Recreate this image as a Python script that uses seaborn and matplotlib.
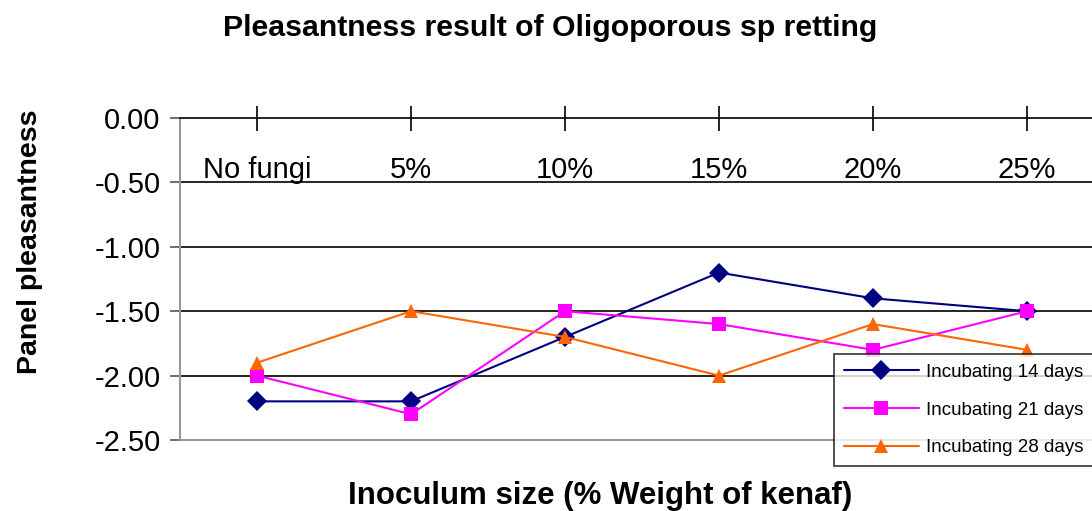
import pandas as pd
import matplotlib
matplotlib.use("Agg")
import matplotlib.pyplot as plt
import seaborn as sns

# Data
categories = ["No fungi", "5%", "10%", "15%", "20%", "25%"]
days_14 = [-2.2, -2.2, -1.7, -1.2, -1.4, -1.5]
days_21 = [-2.0, -2.3, -1.5, -1.6, -1.8, -1.5]
days_28 = [-1.9, -1.5, -1.7, -2.0, -1.6, -1.8]
series_names = ["Incubating 14 days", "Incubating 21 days", "Incubating 28 days"]
y_ticks = [0.0, -0.5, -1.0, -1.5, -2.0, -2.5]

rows = []
for name, vals in zip(series_names, [days_14, days_21, days_28]):
    for i, (cat, v) in enumerate(zip(categories, vals)):
        rows.append({"pos": i, "Inoculum": cat, "Series": name, "Value": v})
df = pd.DataFrame(rows)

sns.set_style("white")
plt.rcParams["font.family"] = ["Liberation Sans", "DejaVu Sans"]
plt.rcParams["text.color"] = "black"
plt.rcParams["xtick.labelcolor"] = "black"
plt.rcParams["ytick.labelcolor"] = "black"

fig = plt.figure(figsize=(10.92, 5.11), dpi=100)
ax = fig.add_axes([180 / 1092, 1 - 440 / 511, (1104 - 180) / 1092, (440 - 118) / 511])

palette = {series_names[0]: "#000080", series_names[1]: "#FF00FF", series_names[2]: "#FF6600"}
markers = {series_names[0]: "D", series_names[1]: "s", series_names[2]: "^"}

sns.lineplot(
    data=df, x="pos", y="Value", hue="Series", style="Series",
    palette=palette, markers=markers, dashes=False, sort=False,
    linewidth=1.5, markersize=10, markeredgewidth=0, ax=ax
)

ax.set_xlim(-0.5, 5.5)
ax.set_ylim(-2.5, 0)

# gridlines
for y in [-0.5, -1.0, -1.5, -2.0]:
    ax.axhline(y, color="black", linewidth=1.2, zorder=0)
ax.axhline(-2.5, color="#999999", linewidth=1.5, clip_on=False, zorder=0)

# x axis crosses at 0 like Excel
ax.spines["top"].set_visible(False)
ax.spines["right"].set_visible(False)
ax.spines["bottom"].set_position(("data", 0))
ax.spines["bottom"].set_color("black")
ax.spines["bottom"].set_linewidth(1.2)
ax.spines["left"].set_color("#999999")
ax.spines["left"].set_linewidth(1.5)

ax.set_xticks(range(len(categories)))
ax.set_xticklabels(categories)
ax.tick_params(axis="x", direction="inout", length=18, width=1.2, color="black",
               pad=18, labelsize=21, bottom=True)
ax.set_yticks(y_ticks)
ax.set_yticklabels([f"{v:.2f}" for v in y_ticks])
ax.tick_params(axis="y", direction="out", length=7, width=1.2, color="#555555",
               labelsize=21, left=True, pad=7)

ax.set_xlabel("")
ax.set_ylabel("")

fig.text(550 / 1092, 1 - 28 / 511, "Pleasantness result of Oligoporous sp retting",
         ha="center", va="center", fontsize=21.8, fontweight="bold")
fig.text(600 / 1092, 1 - 496 / 511, "Inoculum size (% Weight of kenaf)",
         ha="center", va="center", fontsize=22.5, fontweight="bold")
fig.text(30 / 1092, 1 - 242 / 511, "Panel pleasantness", rotation=90,
         ha="center", va="center", fontsize=20.5, fontweight="bold")

handles, labels = ax.get_legend_handles_labels()
ax.get_legend().remove()
leg = ax.legend(handles, labels, loc="upper left", bbox_to_anchor=(825 / 1092, 1 - 345 / 511),
                bbox_transform=fig.transFigure, fontsize=13.5, frameon=True, fancybox=False,
                edgecolor="black", handlelength=4.0, handletextpad=0.4, labelspacing=1.1,
                borderpad=0.5, markerscale=1.0)
leg.get_frame().set_linewidth(1.2)

fig.savefig("out.png", dpi=100)
